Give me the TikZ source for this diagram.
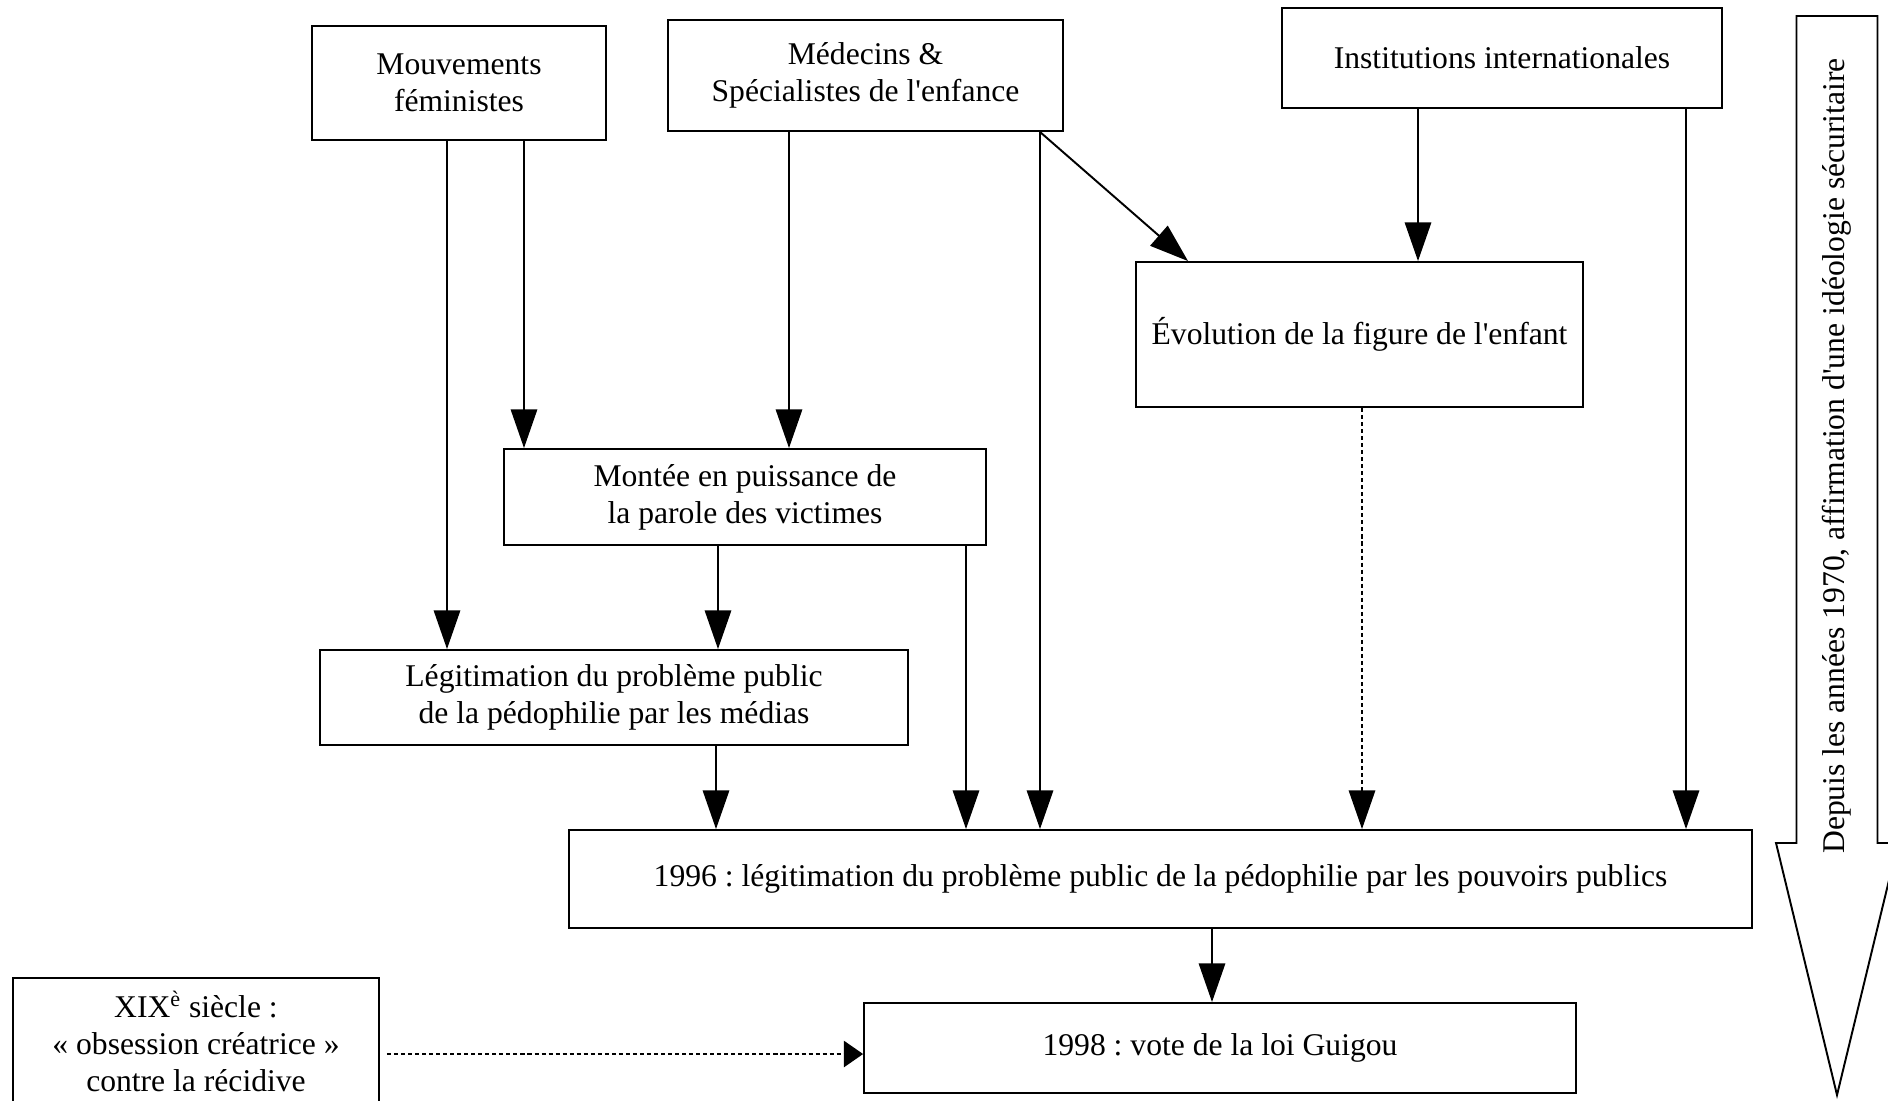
\documentclass[tikz,border=0pt]{standalone}
\usepackage{fontspec}
\setmainfont{Liberation Serif}
\usetikzlibrary{arrows.meta}
\frenchspacing

\begin{document}
\begin{tikzpicture}[x=0.02cm, y=-0.02cm,
    box/.style={draw, line width=1.1pt, inner sep=0pt, align=center, font=\fontsize{18}{21}\selectfont},
    arr/.style={-{Triangle[length=22pt, width=15pt]}, line width=1.1pt},
    dotarr/.style={arr, dash pattern=on 2.3pt off 1.7pt}]
    \clip (0,0) rectangle (1888,1100);

    % TOP ROW: ACTORS
    \node[box, minimum width=5.88cm, minimum height=2.28cm] (mouv) at (459,83) {Mouvements\\féministes};
    \node[box, minimum width=7.9cm, minimum height=2.22cm] (medecins) at (865.5,75.5) {Médecins \&\\Spécialistes de l\textquotesingle enfance};
    \node[box, minimum width=8.8cm, minimum height=2cm] (inst) at (1502,58) {Institutions internationales};

    % MIDDLE: INTERMEDIATE STEPS
    \node[box, minimum width=8.94cm, minimum height=2.9cm] (evol) at (1359.5,334.5) {Évolution de la figure de l\textquotesingle enfant};
    \node[box, minimum width=9.64cm, minimum height=1.92cm] (montee) at (745,497) {Montée en puissance de\\la parole des victimes};
    \node[box, minimum width=11.76cm, minimum height=1.9cm] (legit) at (614,697.5) {Légitimation du problème public\\de la pédophilie par les médias};

    % BOTTOM: OUTCOMES
    \node[box, minimum width=23.66cm, minimum height=1.96cm] (pub96) at (1160.5,879) {1996 : légitimation du problème public de la pédophilie par les pouvoirs publics};
    \node[box, minimum width=14.24cm, minimum height=1.8cm] (loi98) at (1220,1048) {1998 : vote de la loi Guigou};
    \node[box, minimum width=7.32cm, minimum height=2.54cm] (xix) at (196,1041.5) {XIX\textsuperscript{è} siècle :\\« obsession créatrice »\\contre la récidive};

    % CONNECTORS
    \draw[arr] (mouv.south -| 447,0) -- (legit.north -| 447,0);
    \draw[arr] (mouv.south -| 524,0) -- (montee.north -| 524,0);
    \draw[arr] (medecins.south -| 789,0) -- (montee.north -| 789,0);
    \draw[arr] (medecins.south -| 1040,0) -- (pub96.north -| 1040,0);
    \draw[arr] (medecins.south -| 1040,0) -- (evol.north -| 1188,0);
    \draw[arr] (inst.south -| 1418,0) -- (evol.north -| 1418,0);
    \draw[arr] (inst.south -| 1686,0) -- (pub96.north -| 1686,0);
    \draw[arr] (montee.south -| 718,0) -- (legit.north -| 718,0);
    \draw[arr] (montee.south -| 966,0) -- (pub96.north -| 966,0);
    \draw[arr] (legit.south -| 716,0) -- (pub96.north -| 716,0);
    \draw[dotarr] (evol.south -| 1362,0) -- (pub96.north -| 1362,0);
    \draw[arr] (pub96.south -| 1212,0) -- (loi98.north -| 1212,0);
    \draw[dotarr, -{Triangle[length=11pt, width=15pt]}] ([xshift=0.14cm]xix.east |- 0,1054) -- (loi98.west |- 0,1054);

    % BIG ARROW ON THE RIGHT
    \draw[line width=1.1pt, line join=miter] (1796.5,16) -- (1877.5,16) -- (1877.5,843) -- (1898,843)
        -- (1837,1095) -- (1776,843) -- (1796.5,843) -- cycle;
    \node[rotate=90, font=\fontsize{18}{21}\selectfont] (trend) at (1837,456) {Depuis les années 1970, affirmation d\textquotesingle une idéologie sécuritaire};
\end{tikzpicture}
\end{document}
